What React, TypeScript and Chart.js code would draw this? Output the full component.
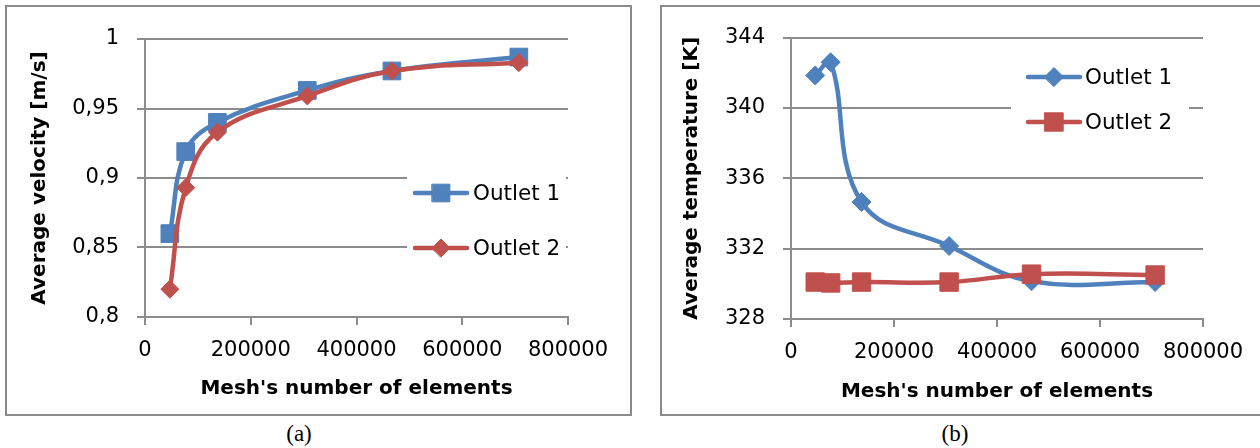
import React, { useEffect, useRef } from "react";
import { Chart, registerables } from "chart.js";

Chart.register(...registerables);

// Mesh sizes used in the grid-independence study
const meshElements = [47000, 77000, 137000, 307000, 467000, 707000];

// Average outlet velocity [m/s]
const velocityOutlet1 = [0.86, 0.919, 0.94, 0.963, 0.977, 0.987];
const velocityOutlet2 = [0.82, 0.893, 0.933, 0.959, 0.977, 0.983];

// Average outlet temperature [K]
const temperatureOutlet1 = [341.85, 342.6, 334.65, 332.15, 330.15, 330.1];
const temperatureOutlet2 = [330.1, 330.05, 330.1, 330.1, 330.55, 330.5];

// Axis tick labels
const xTickLabels = ["0", "200000", "400000", "600000", "800000"];
const velocityTickLabels = ["0,8", "0,85", "0,9", "0,95", "1"];
const temperatureTickLabels = ["328", "332", "336", "340", "344"];

const seriesNames = ["Outlet 1", "Outlet 2"];

const BLUE = "#4F81BD";
const RED = "#C0504D";
const GRID = "#8c8c8c";
const FONT = "'DejaVu Sans', sans-serif";

// Draws a marker glyph matching Chart.js' rect / rectRot point styles
function drawMarker(ctx: CanvasRenderingContext2D, style: string, x: number, y: number, r: number) {
  ctx.beginPath();
  if (style === "rect") {
    const s = Math.SQRT1_2 * r;
    ctx.rect(x - s, y - s, 2 * s, 2 * s);
  } else {
    ctx.moveTo(x - r, y);
    ctx.lineTo(x, y - r);
    ctx.lineTo(x + r, y);
    ctx.lineTo(x, y + r);
    ctx.closePath();
  }
  ctx.fill();
  ctx.stroke();
}

// Legend drawn inside the plot, on a white patch that hides the grid behind it
const insideLegend = {
  id: "insideLegend",
  afterDraw(chart: any, _args: any, opts: any) {
    if (!opts || !opts.box) return;
    const { ctx } = chart;
    ctx.save();
    ctx.fillStyle = "#ffffff";
    ctx.fillRect(opts.box.x, opts.box.y, opts.box.w, opts.box.h);
    chart.data.datasets.forEach((ds: any, i: number) => {
      const y = opts.rows[i];
      ctx.strokeStyle = ds.borderColor;
      ctx.fillStyle = ds.borderColor;
      ctx.lineWidth = ds.borderWidth;
      ctx.lineCap = "round";
      ctx.beginPath();
      ctx.moveTo(opts.lineX0, y);
      ctx.lineTo(opts.lineX1, y);
      ctx.stroke();
      ctx.lineWidth = 1;
      drawMarker(ctx, ds.pointStyle, (opts.lineX0 + opts.lineX1) / 2, y, ds.pointRadius);
      ctx.fillStyle = "#000";
      ctx.font = `21.5px ${FONT}`;
      ctx.textAlign = "left";
      ctx.textBaseline = "middle";
      ctx.fillText(ds.label, opts.textX, y + 1);
    });
    ctx.restore();
  },
};

type PanelSpec = {
  yLabel: string;
  yMin: number;
  yMax: number;
  yStep: number;
  yTicks: string[];
  series: { name: string; values: number[]; color: string; style: string; radius: number; order: number }[];
  padding: { left: number; right: number; top: number; bottom: number };
  yWidth: number;
  xHeight: number;
  yTitlePad: number;
  xTitlePad: number;
  legend: any;
};

function buildConfig(p: PanelSpec): any {
  return {
    type: "line",
    data: {
      datasets: p.series.map((s) => ({
        label: s.name,
        data: meshElements.map((x, i) => ({ x, y: s.values[i] })),
        borderColor: s.color,
        backgroundColor: s.color,
        borderWidth: 4.5,
        pointStyle: s.style,
        pointRadius: s.radius,
        pointBorderWidth: 1,
        pointBackgroundColor: s.color,
        pointBorderColor: s.color,
        tension: 0.4,
        order: s.order,
      })),
    },
    options: {
      responsive: false,
      animation: false,
      events: [],
      layout: { padding: p.padding },
      plugins: {
        legend: { display: false },
        tooltip: { enabled: false },
        insideLegend: p.legend,
      },
      scales: {
        x: {
          type: "linear",
          min: 0,
          max: 800000,
          afterFit: (scale: any) => {
            scale.height = p.xHeight;
          },
          ticks: {
            stepSize: 200000,
            color: "#000",
            padding: 13,
            maxRotation: 0,
            font: { family: FONT, size: 21 },
            callback: (_v: any, i: number) => xTickLabels[i],
          },
          grid: {
            display: true,
            drawOnChartArea: false,
            drawTicks: true,
            tickLength: 8,
            color: GRID,
            lineWidth: 2,
          },
          border: { display: true, color: GRID, width: 2 },
          title: {
            display: true,
            text: "Mesh's number of elements",
            color: "#000",
            font: { family: FONT, size: 20, weight: "bold" },
            padding: { top: 0, bottom: p.xTitlePad },
          },
        },
        y: {
          type: "linear",
          min: p.yMin,
          max: p.yMax,
          afterFit: (scale: any) => {
            scale.width = p.yWidth;
          },
          ticks: {
            stepSize: p.yStep,
            color: "#000",
            padding: 18,
            font: { family: FONT, size: 21 },
            callback: (_v: any, i: number) => p.yTicks[i],
          },
          grid: {
            color: GRID,
            lineWidth: 2,
            drawTicks: true,
            tickLength: 8,
          },
          border: { display: true, color: GRID, width: 2 },
          title: {
            display: true,
            text: p.yLabel,
            color: "#000",
            font: { family: FONT, size: 20, weight: "bold" },
            padding: { top: p.yTitlePad, bottom: 0 },
          },
        },
      },
    },
    plugins: [insideLegend],
  };
}

const velocityPanel: PanelSpec = {
  yLabel: "Average velocity [m/s]",
  yMin: 0.8,
  yMax: 1,
  yStep: 0.05,
  yTicks: velocityTickLabels,
  series: [
    { name: seriesNames[0], values: velocityOutlet1, color: BLUE, style: "rect", radius: 12.5, order: 1 },
    { name: seriesNames[1], values: velocityOutlet2, color: RED, style: "rectRot", radius: 9, order: 0 },
  ],
  padding: { left: 8, right: 62, top: 32, bottom: 7 },
  yWidth: 130,
  xHeight: 90,
  yTitlePad: 13,
  xTitlePad: 6,
  legend: {
    box: { x: 400, y: 158, w: 159, h: 100 },
    rows: [186, 241],
    lineX0: 408,
    lineX1: 460,
    textX: 466,
  },
};

const temperaturePanel: PanelSpec = {
  yLabel: "Average temperature [K]",
  yMin: 328,
  yMax: 344,
  yStep: 4,
  yTicks: temperatureTickLabels,
  series: [
    { name: seriesNames[0], values: temperatureOutlet1, color: BLUE, style: "rectRot", radius: 9.5, order: 1 },
    { name: seriesNames[1], values: temperatureOutlet2, color: RED, style: "rect", radius: 13, order: 0 },
  ],
  padding: { left: 9, right: 57, top: 20, bottom: 7 },
  yWidth: 120,
  xHeight: 88,
  yTitlePad: 9,
  xTitlePad: 3,
  legend: {
    box: { x: 349, y: 43, w: 178, h: 90 },
    rows: [70, 115],
    lineX0: 366,
    lineX1: 418,
    textX: 423,
  },
};

function Panel({ spec, width, height }: { spec: PanelSpec; width: number; height: number }) {
  const ref = useRef<HTMLCanvasElement | null>(null);
  useEffect(() => {
    if (!ref.current) return;
    const chart = new Chart(ref.current, buildConfig(spec));
    return () => chart.destroy();
  }, [spec]);
  return <canvas ref={ref} width={width} height={height} style={{ display: "block", width, height }} />;
}

export default function App() {
  const frame: React.CSSProperties = {
    position: "absolute",
    top: 5,
    height: 411,
    border: "2px solid #8a8a8a",
    boxSizing: "border-box",
    background: "#fff",
  };
  const caption: React.CSSProperties = {
    position: "absolute",
    top: 421,
    width: 80,
    textAlign: "center",
    fontFamily: "'Liberation Serif', 'Times New Roman', serif",
    fontSize: 23,
    lineHeight: "26px",
    color: "#000",
  };
  return (
    <div
      style={{
        position: "absolute",
        left: 0,
        top: 0,
        width: 1260,
        height: 448,
        background: "#fff",
        overflow: "hidden",
      }}
    >
      <div style={{ ...frame, left: 5, width: 627 }}>
        <Panel spec={velocityPanel} width={623} height={407} />
      </div>
      <div style={{ ...frame, left: 660, width: 610 }}>
        <Panel spec={temperaturePanel} width={598} height={407} />
      </div>
      <div style={{ ...caption, left: 259 }}>(a)</div>
      <div style={{ ...caption, left: 915 }}>(b)</div>
    </div>
  );
}
